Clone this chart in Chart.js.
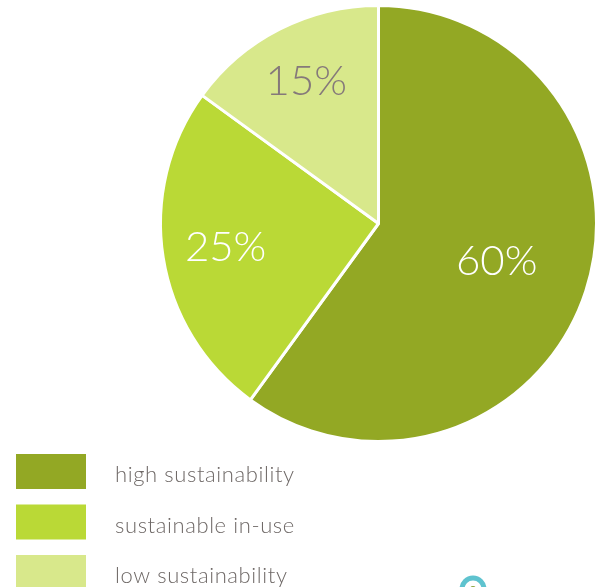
<!DOCTYPE html>
<html>
<head>
<meta charset="utf-8">
<script src="https://cdn.jsdelivr.net/npm/chart.js@4"></script>
<style>
  html, body { margin: 0; padding: 0; background: #fff; }
  #wrap { width: 598px; height: 587px; position: relative; }
</style>
</head>
<body>
<div id="wrap"><canvas id="pieChart" width="598" height="587"></canvas></div>
<script>
const categories = ['high sustainability', 'sustainable in-use', 'low sustainability'];
const shares = [60, 25, 15];
const sliceColors = ['#93A824', '#BAD936', '#D8E88B'];
const labelColors = ['#ffffff', '#ffffff', '#85797a'];

document.addEventListener('DOMContentLoaded', function() {
    // Helper: safe get canvas context
    function getContextSafely(id) {
        const el = document.getElementById(id);
        if (!el) return null;
        try {
            return el.getContext('2d');
        } catch (e) {
            return null;
        }
    }

    // percent labels inside slices
    const sliceLabels = {
        id: 'sliceLabels',
        afterDatasetsDraw(chart) {
            const ctx = chart.ctx;
            const meta = chart.getDatasetMeta(0);
            const radial = [0.57, 0.71, 0.73];
            ctx.save();
            ctx.font = '300 42px Lato, "Open Sans", sans-serif';
            ctx.textAlign = 'center';
            ctx.textBaseline = 'middle';
            meta.data.forEach((arc, i) => {
                const p = arc.getProps(['x', 'y', 'startAngle', 'endAngle', 'outerRadius'], true);
                const mid = (p.startAngle + p.endAngle) / 2;
                const r = p.outerRadius * radial[i];
                ctx.fillStyle = labelColors[i];
                ctx.fillText(shares[i] + '%', p.x + Math.cos(mid) * r, p.y + Math.sin(mid) * r);
            });
            ctx.restore();
        }
    };

    // legend drawn at bottom-left, boxes + text
    const boxLegend = {
        id: 'boxLegend',
        afterDraw(chart) {
            const ctx = chart.ctx;
            const colors = chart.data.datasets[0].backgroundColor;
            ctx.save();
            ctx.font = '300 22px Lato, "Open Sans", sans-serif';
            ctx.letterSpacing = '0.6px';
            ctx.textAlign = 'left';
            ctx.textBaseline = 'alphabetic';
            chart.data.labels.forEach((lab, i) => {
                const top = 454 + i * 50.5;
                ctx.fillStyle = colors[i];
                ctx.fillRect(16, top, 70, 35);
                ctx.fillStyle = '#6f6967';
                ctx.fillText(lab, 115, top + 28);
            });
            ctx.letterSpacing = '0px';
            // small teal badge peeking at the bottom edge
            ctx.beginPath();
            ctx.arc(473, 589, 11, 0, Math.PI * 2);
            ctx.lineWidth = 5;
            ctx.strokeStyle = '#5FC3CF';
            ctx.stroke();
            ctx.beginPath();
            ctx.arc(473, 589, 3, 0, Math.PI * 2);
            ctx.fillStyle = '#8aa33a';
            ctx.fill();
            ctx.restore();
        }
    };

    const pieCtx = getContextSafely('pieChart');
    if (pieCtx) {
        new Chart(pieCtx, {
            type: 'pie',
            data: {
                labels: categories.slice(),
                datasets: [{
                    data: shares.slice(),
                    backgroundColor: sliceColors,
                    borderColor: '#ffffff',
                    borderWidth: 3
                }]
            },
            options: {
                responsive: false,
                animation: false,
                layout: {
                    padding: { left: 159, right: 0, top: 3, bottom: 143 }
                },
                plugins: {
                    legend: { display: false },
                    tooltip: { enabled: false }
                }
            },
            plugins: [sliceLabels, boxLegend]
        });
    }
});
</script>
</body>
</html>
